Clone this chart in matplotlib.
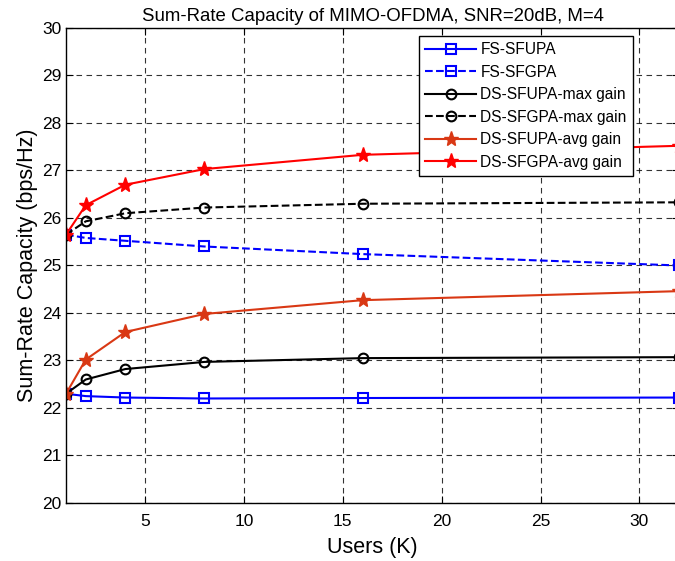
import matplotlib
matplotlib.use("Agg")
import matplotlib.pyplot as plt

# data
users = [1, 2, 4, 8, 16, 32]
fsSfupa = [22.30, 22.25, 22.22, 22.20, 22.21, 22.22]
fsSfgpa = [25.65, 25.58, 25.52, 25.40, 25.24, 25.00]
dsSfupaMax = [22.30, 22.60, 22.82, 22.97, 23.05, 23.07]
dsSfgpaMax = [25.65, 25.93, 26.10, 26.22, 26.30, 26.33]
dsSfupaAvg = [22.30, 23.02, 23.60, 23.98, 24.27, 24.46]
dsSfgpaAvg = [25.65, 26.27, 26.70, 27.03, 27.33, 27.52]

plt.rcParams['font.family'] = ['Liberation Sans', 'DejaVu Sans']

fig = plt.figure(figsize=(6.75, 5.61), dpi=100)
ax = fig.add_axes([0.0978, 0.1034, 0.908, 0.8467])

orange = (0.85, 0.22, 0.08)
ax.plot(users, fsSfupa, '-s', color='blue', lw=1.5, ms=7, mfc='none', mew=1.5, label='FS-SFUPA')
ax.plot(users, fsSfgpa, '--s', color='blue', lw=1.5, ms=7, mfc='none', mew=1.5, label='FS-SFGPA')
ax.plot(users, dsSfupaMax, '-o', color='black', lw=1.5, ms=7, mfc='none', mew=1.5, label='DS-SFUPA-max gain')
ax.plot(users, dsSfgpaMax, '--o', color='black', lw=1.5, ms=7, mfc='none', mew=1.5, label='DS-SFGPA-max gain')
ax.plot(users, dsSfupaAvg, '-*', color=orange, lw=1.5, ms=11, label='DS-SFUPA-avg gain')
ax.plot(users, dsSfgpaAvg, '-*', color='red', lw=1.5, ms=11, label='DS-SFGPA-avg gain')

ax.set_xlim(1, 32)
ax.set_ylim(20, 30)
ax.set_xticks([5, 10, 15, 20, 25, 30])
ax.set_yticks(range(20, 31))
ax.tick_params(direction='in', top=True, right=True, labelsize=12.5, length=5)
ax.tick_params(axis='x', pad=8)
ax.grid(True, color='black', linestyle=(0, (5, 4)), linewidth=0.8, alpha=0.8)
for s in ax.spines.values():
    s.set_linewidth(1.0)

ax.set_title('Sum-Rate Capacity of MIMO-OFDMA, SNR=20dB, M=4', fontsize=13.4, pad=5)
ax.set_xlabel('Users (K)', fontsize=15.5, labelpad=6)
ax.set_ylabel('Sum-Rate Capacity (bps/Hz)', fontsize=15.5, labelpad=3)

leg = ax.legend(loc='upper right', bbox_to_anchor=(0.925, 0.983), borderaxespad=0,
                fancybox=False, framealpha=1, edgecolor='black', fontsize=11.2,
                handlelength=3.3, labelspacing=0.48, borderpad=0.4, handletextpad=0.25)
leg.get_frame().set_linewidth(1.0)

fig.savefig('out.png', dpi=100)
